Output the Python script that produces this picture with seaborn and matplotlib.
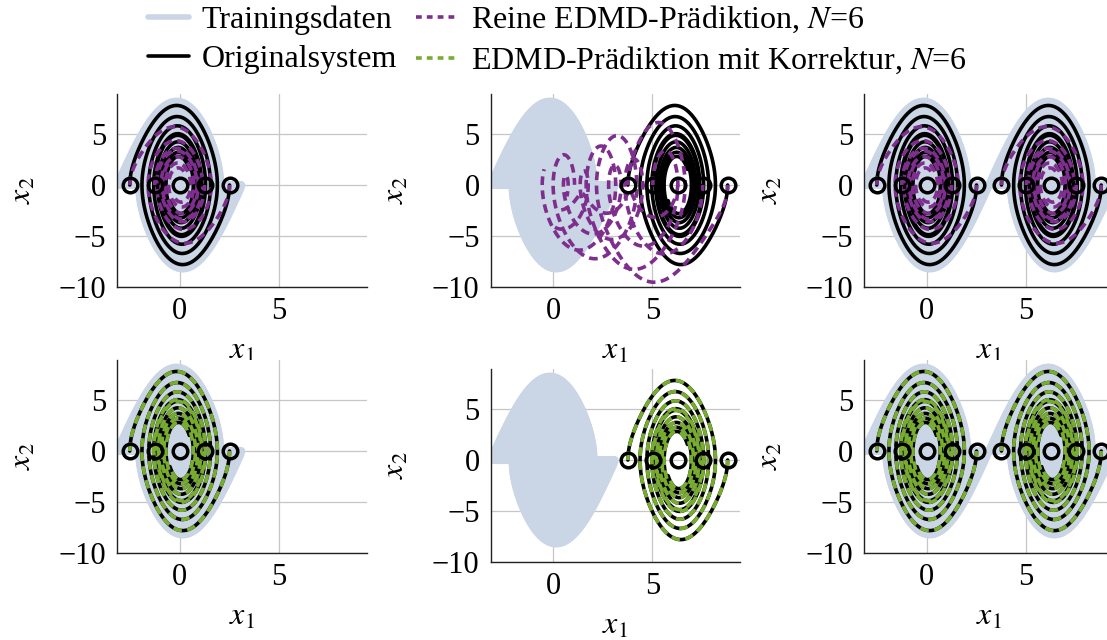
import numpy as np
import pandas as pd
import matplotlib
matplotlib.use("Agg")
import matplotlib.pyplot as plt
from matplotlib.lines import Line2D
import seaborn as sns

# Pendel: x1' = x2, x2' = -K sin(x1) - D x2
K = 19.62
D = 0.38
T_END = 3.6
DT = 0.004

# Anfangszustaende (x2 = 0)
x0_pred = np.array([-0.8, -0.4, 0.0, 0.4, 0.8]) * np.pi
SHIFT = 2 * np.pi
x0_train = np.linspace(-0.985, 0.985, 45) * np.pi
T_TRAIN = 5.0

# reine EDMD im Trainingsgebiet
K_EDMD = 12.0
D_EDMD = 0.55
# reine EDMD ausserhalb des Trainingsgebiets (driftet nach links)
K_OUT = 19.62
D_OUT = 0.45
V_DRIFT = 1.7

COL_TRAIN = "#cad6e5"
COL_ORIG = "black"
COL_EDMD = "#7e2f8e"
COL_KORR = "#77ac30"

LW = 2.6
DASH = (0, (2.4, 1.5))


def simulate(x0, k, d, v0=0.0, T=T_END, dt=DT):
    # RK4, vektorisiert ueber alle Anfangswerte
    s = np.vstack([np.atleast_1d(x0).astype(float),
                   np.full(np.size(x0), v0, dtype=float)])
    n = int(round(T / dt))
    out = np.empty((n + 1, 2, s.shape[1]))
    out[0] = s

    def f(s):
        return np.array([s[1], -k * np.sin(s[0]) - d * s[1]])

    for i in range(n):
        k1 = f(s)
        k2 = f(s + dt / 2 * k1)
        k3 = f(s + dt / 2 * k2)
        k4 = f(s + dt * k3)
        s = s + dt / 6 * (k1 + 2 * k2 + 2 * k3 + k4)
        out[i + 1] = s
    t = np.arange(n + 1) * dt
    return t, out


def to_df(t, out, offset=0.0, drift=0.0, tag=0):
    frames = []
    for j in range(out.shape[2]):
        frames.append(pd.DataFrame({
            "x1": out[:, 0, j] + offset - drift * t,
            "x2": out[:, 1, j] - drift,
            "run": f"{tag}_{j}",
        }))
    return pd.concat(frames, ignore_index=True)


# Trajektorien
t_tr, tr = simulate(x0_train, K, D, T=T_TRAIN)
df_train0 = to_df(t_tr, tr, 0.0, tag=0)
df_train1 = to_df(t_tr, tr, SHIFT, tag=1)

t_o, orig = simulate(x0_pred, K, D)
df_orig0 = to_df(t_o, orig, 0.0, tag=0)
df_orig1 = to_df(t_o, orig, SHIFT, tag=1)

t_e, edmd = simulate(x0_pred, K_EDMD, D_EDMD)
df_edmd0 = to_df(t_e, edmd, 0.0, tag=0)
df_edmd1 = to_df(t_e, edmd, SHIFT, tag=1)

t_d, edrift = simulate(x0_pred, K_OUT, D_OUT, v0=V_DRIFT)
df_drift = to_df(t_d, edrift, SHIFT, drift=V_DRIFT, tag=2)

panels = {
    0: dict(train=[df_train0], orig=[df_orig0], edmd=[df_edmd0],
            starts=[x0_pred]),
    1: dict(train=[df_train0], orig=[df_orig1], edmd=[df_drift],
            starts=[x0_pred + SHIFT]),
    2: dict(train=[df_train0, df_train1], orig=[df_orig0, df_orig1],
            edmd=[df_edmd0, df_edmd1], starts=[x0_pred, x0_pred + SHIFT]),
}

sns.set_theme(style="whitegrid")
plt.rcParams["font.family"] = ["Liberation Serif", "DejaVu Serif"]
plt.rcParams["mathtext.fontset"] = "stix"
plt.rcParams["axes.unicode_minus"] = True
plt.rcParams["text.color"] = "black"
plt.rcParams["axes.labelcolor"] = "black"
plt.rcParams["xtick.color"] = "black"
plt.rcParams["ytick.color"] = "black"

fig = plt.figure(figsize=(11.07, 6.4), dpi=100)
W, H = 1107, 640
col_left = [117.3, 490.7, 864.3]
ax_w = 249.4
ax_h = 193.3
row_top = {(0, 0): 94, (0, 1): 94, (0, 2): 94,
           (1, 0): 360, (1, 1): 369, (1, 2): 360}

for r in range(2):
    for c in range(3):
        top = row_top[(r, c)]
        ax = fig.add_axes([col_left[c] / W, 1 - (top + ax_h) / H,
                           ax_w / W, ax_h / H])
        p = panels[c]
        for d in p["train"]:
            sns.lineplot(data=d, x="x1", y="x2", units="run", estimator=None,
                         sort=False, color=COL_TRAIN, lw=6, ax=ax, zorder=1)
        for d in p["orig"]:
            sns.lineplot(data=d, x="x1", y="x2", units="run", estimator=None,
                         sort=False, color=COL_ORIG, lw=LW, ax=ax, zorder=2)
        if r == 0:
            for d in p["edmd"]:
                sns.lineplot(data=d, x="x1", y="x2", units="run",
                             estimator=None, sort=False, color=COL_EDMD,
                             lw=LW, linestyle=DASH, ax=ax, zorder=3)
        else:
            for d in p["orig"]:
                sns.lineplot(data=d, x="x1", y="x2", units="run",
                             estimator=None, sort=False, color=COL_KORR,
                             lw=LW, linestyle=DASH, ax=ax, zorder=3)
        for s in p["starts"]:
            ax.plot(s, np.zeros_like(s), "o", ms=10.5, mfc="none", mec="black",
                    mew=2.5, zorder=4, clip_on=False)

        ax.set_xlim(-np.pi, 3 * np.pi)
        ax.set_ylim(-10, 8.9)
        ax.set_xticks([0, 5])
        ax.set_yticks([-10, -5, 0, 5])
        ax.grid(True, color="#c6c6c6", lw=0.9)
        ax.set_facecolor("white")
        for side in ["top", "right"]:
            ax.spines[side].set_visible(False)
        for side in ["left", "bottom"]:
            ax.spines[side].set_color("#222222")
            ax.spines[side].set_linewidth(1.0)
        ax.tick_params(length=0, labelsize=22)
        ax.tick_params(axis="x", pad=7)
        ax.tick_params(axis="y", pad=8)
        ax.set_xlabel("$x_1$", fontsize=23, labelpad=8)
        ax.set_ylabel("$x_2$", fontsize=23, labelpad=15)

handles = [
    Line2D([], [], color=COL_TRAIN, lw=4),
    Line2D([], [], color=COL_ORIG, lw=LW),
    Line2D([], [], color=COL_EDMD, lw=LW, linestyle=(0, (1.6, 1.4))),
    Line2D([], [], color=COL_KORR, lw=LW, linestyle=(0, (1.6, 1.4))),
]
labels = ["Trainingsdaten", "Originalsystem",
          "Reine EDMD-Prädiktion, $N$=6",
          "EDMD-Prädiktion mit Korrektur, $N$=6"]
fig.legend(handles, labels, ncol=2, loc="upper left",
           bbox_to_anchor=(146 / W, 1 - 2 / H), frameon=False, fontsize=23,
           handlelength=1.3, handletextpad=0.4, columnspacing=0.6,
           labelspacing=0.3, borderpad=0.05, borderaxespad=0.0)

fig.savefig("out.png", dpi=100)
